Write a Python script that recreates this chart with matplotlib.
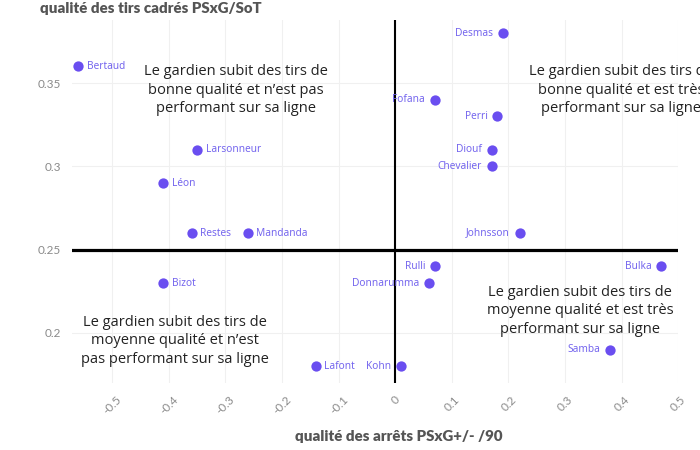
import matplotlib
matplotlib.use("Agg")
import matplotlib.pyplot as plt

# gardiens : qualité des arrêts (x) / qualité des tirs cadrés (y)
noms = ["Bertaud", "Larsonneur", "Léon", "Restes", "Mandanda", "Bizot", "Lafont",
        "Kohn", "Rulli", "Donnarumma", "Johnsson", "Bulka", "Samba",
        "Desmas", "Fofana", "Perri", "Diouf", "Chevalier"]
psxg_90 = [-0.56, -0.35, -0.41, -0.36, -0.26, -0.41, -0.14,
           0.01, 0.07, 0.06, 0.22, 0.47, 0.38,
           0.19, 0.07, 0.18, 0.17, 0.17]
psxg_sot = [0.36, 0.31, 0.29, 0.26, 0.26, 0.23, 0.18,
            0.18, 0.24, 0.23, 0.26, 0.24, 0.19,
            0.38, 0.34, 0.33, 0.31, 0.30]
xticks = [-0.5, -0.4, -0.3, -0.2, -0.1, 0, 0.1, 0.2, 0.3, 0.4, 0.5]
xtick_labels = ["-0.5", "-0.4", "-0.3", "-0.2", "-0.1", "0", "0.1", "0.2", "0.3", "0.4", "0.5"]
yticks = [0.2, 0.25, 0.3, 0.35]
ytick_labels = ["0.2", "0.25", "0.3", "0.35"]

violet = "#6a4ef0"
gris = "#8a8a8a"

fig = plt.figure(figsize=(7, 4.5), dpi=100)
ax = fig.add_axes([0.103, 0.149, 0.866, 0.807])
ax.set_xlim(-0.571, 0.5)
ax.set_ylim(0.17, 0.388)

ax.scatter(psxg_90, psxg_sot, s=55, color=violet, zorder=4, linewidths=0)
for n, x, y in zip(noms, psxg_90, psxg_sot):
    if x > 0:
        ax.annotate(n, (x, y), xytext=(-7, 0), textcoords="offset points",
                    ha="right", va="center", fontsize=7.3, color="#7566ee",
                    family="Noto Sans", zorder=5)
    else:
        ax.annotate(n, (x, y), xytext=(6, 0), textcoords="offset points",
                    ha="left", va="center", fontsize=7.3, color="#7566ee",
                    family="Noto Sans", zorder=5)

ax.axhline(0.25, color="black", lw=2.3, zorder=3)
ax.axvline(0, color="black", lw=1.5, zorder=3)

ax.set_xticks(xticks)
ax.set_xticklabels(xtick_labels, rotation=45, ha="center", color=gris, fontsize=8.5, family="Lato")
ax.set_yticks(yticks)
ax.set_yticklabels(ytick_labels, color=gris, fontsize=8.5, family="Lato")
ax.tick_params(length=0, pad=8)
ax.grid(color="#f0f0f0", lw=0.8)
ax.set_axisbelow(True)
for s in ax.spines.values():
    s.set_visible(False)

fig.text(0.057, 0.982, "qualité des tirs cadrés PSxG/SoT", fontsize=10.8, fontweight="heavy",
         color="#555555", family="Lato", va="center")
fig.text(0.569, 0.029, "qualité des arrêts PSxG+/- /90", fontsize=10.8, fontweight="heavy",
         color="#555555", family="Lato", ha="center", va="center")

txt = dict(fontsize=10.5, color="#222222", family="Open Sans", ha="center", va="center",
           linespacing=1.35, transform=fig.transFigure, clip_on=False)
fig.text(236 / 700, 1 - 90 / 450, "Le gardien subit des tirs de\nbonne qualité et n\u2019est pas\nperformant sur sa ligne", **txt)
fig.text(621 / 700, 1 - 90 / 450, "Le gardien subit des tirs de\nbonne qualité et est très\nperformant sur sa ligne", **txt)
fig.text(175 / 700, 1 - 341 / 450, "Le gardien subit des tirs de\nmoyenne qualité et n\u2019est\npas performant sur sa ligne", **txt)
fig.text(580 / 700, 1 - 311 / 450, "Le gardien subit des tirs de\nmoyenne qualité et est très\nperformant sur sa ligne", **txt)

fig.savefig("out.png", dpi=100)
